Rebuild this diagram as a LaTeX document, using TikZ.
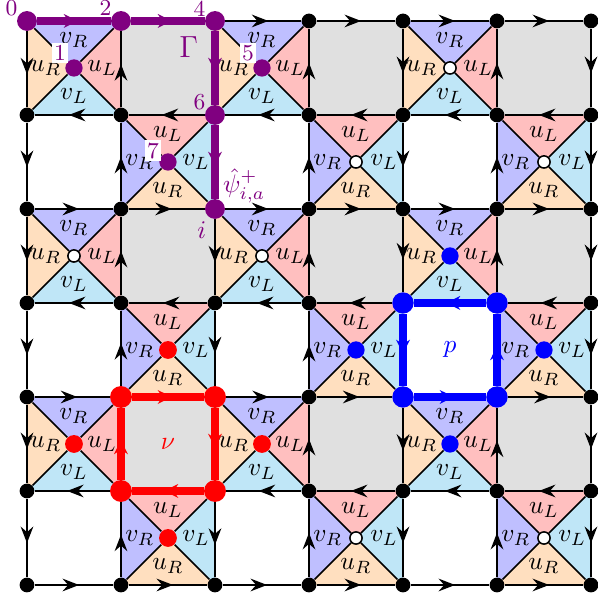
\documentclass[tikz,border=0pt]{standalone}
\usetikzlibrary{arrows.meta,decorations.markings,backgrounds}

\definecolor{pathpurple}{RGB}{128,0,128}
\definecolor{vR}{HTML}{BFBFFF}
\definecolor{uR}{HTML}{FFDFBF}
\definecolor{uL}{HTML}{FFBFBF}
\definecolor{vL}{HTML}{BFE6F7}
\definecolor{plaqgray}{HTML}{E0E0E0}

% field names printed in the triangles
\newcommand{\flduL}{u_L}
\newcommand{\flduR}{u_R}
\newcommand{\fldvL}{v_L}
\newcommand{\fldvR}{v_R}

\begin{document}
\begin{tikzpicture}[
    x=1.3cm, y=1.3cm,
    lattice_edge/.style={line width=0.6pt, postaction={decorate},
      decoration={markings, mark=at position 0.5 with {\arrow[xshift=2pt]{Stealth[length=6.5pt, width=5pt, inset=2.2pt]}}}},
    loop_edge/.style={line width=2.8pt, postaction={decorate},
      decoration={markings, mark=at position 0.5 with {\arrow[xshift=1.5pt]{Stealth[length=5.5pt, width=5.4pt, inset=1.8pt]}}}},
    diagonal/.style={line width=0.6pt},
    grid_dot/.style={circle, fill=black, inner sep=0pt, minimum size=5.8pt},
    gamma_dot/.style={circle, fill=pathpurple, inner sep=0pt, minimum size=7.8pt},
    nu_dot/.style={circle, fill=red, inner sep=0pt, minimum size=8.6pt},
    p_dot/.style={circle, fill=blue, inner sep=0pt, minimum size=8.4pt},
    open_center/.style={circle, draw=black, fill=white, line width=0.6pt, inner sep=0pt, minimum size=4.8pt},
    purple_center/.style={circle, fill=pathpurple, inner sep=0pt, minimum size=6.8pt},
    red_center/.style={circle, fill=red, inner sep=0pt, minimum size=7pt},
    blue_center/.style={circle, fill=blue, inner sep=0pt, minimum size=6.8pt},
    field_label/.style={inner sep=0pt},
    corner_label/.style={font=\small, text=pathpurple, inner sep=0pt},
    num_label/.style={font=\small, text=pathpurple, fill=white, inner sep=0.9pt},
  ]
  \useasboundingbox (-0.287,-6.213) rectangle (6.074,0.223);

  % --- Lattice vertices ---
  % on the string Gamma and round the two loops
  \foreach \c/\r in {0/0, 1/0, 2/0, 2/1, 2/2}
    \node[gamma_dot] (v-\c-\r) at (\c,-\r) {};
  \foreach \c/\r in {1/4, 2/4, 1/5, 2/5}
    \node[nu_dot] (v-\c-\r) at (\c,-\r) {};
  \foreach \c/\r in {4/3, 5/3, 4/4, 5/4}
    \node[p_dot] (v-\c-\r) at (\c,-\r) {};
  % all the others
  \foreach \r/\cols in {0/{3,4,5,6}, 1/{0,1,3,4,5,6}, 2/{0,1,3,4,5,6},
      3/{0,1,2,3,6}, 4/{0,3,6}, 5/{0,3,4,5,6}, 6/{0,...,6}}
    \foreach \c in \cols
      \node[grid_dot] (v-\c-\r) at (\c,-\r) {};

  % --- Grey plaquettes ---
  \begin{scope}[on background layer]
    \foreach \c/\r in {1/0, 3/0, 5/0, 1/2, 3/2, 5/2, 1/4, 3/4, 5/4}
      \fill[plaqgray] (v-\c-\r.center) rectangle ++(1,-1);
  \end{scope}

  % --- Crossed plaquettes: centre, four triangles, diagonals ---
  \foreach \c/\r/\kind in {
      0/0/purple_center, 2/0/purple_center, 4/0/open_center,
      1/1/purple_center, 3/1/open_center,   5/1/open_center,
      0/2/open_center,   2/2/open_center,   4/2/blue_center,
      1/3/red_center,    3/3/blue_center,   5/3/blue_center,
      0/4/red_center,    2/4/red_center,    4/4/blue_center,
      1/5/red_center,    3/5/open_center,   5/5/open_center} {
    \pgfmathtruncatemacro\cc{\c+1}
    \pgfmathtruncatemacro\rr{\r+1}
    \ifodd\r\relax
      \def\nfield{uL}\def\wfield{vR}\def\efield{vL}\def\sfield{uR}
    \else
      \def\nfield{vR}\def\wfield{uR}\def\efield{uL}\def\sfield{vL}
    \fi
    \node[\kind] (s-\c-\r) at (\c+0.5,-\r-0.5) {};
    \begin{pgfonlayer}{background}
      \fill[\nfield] (v-\c-\r.center) -- (v-\cc-\r.center) -- (s-\c-\r.center) -- cycle;
      \fill[\wfield] (v-\c-\r.center) -- (v-\c-\rr.center) -- (s-\c-\r.center) -- cycle;
      \fill[\efield] (v-\cc-\r.center) -- (v-\cc-\rr.center) -- (s-\c-\r.center) -- cycle;
      \fill[\sfield] (v-\c-\rr.center) -- (v-\cc-\rr.center) -- (s-\c-\r.center) -- cycle;
      \node[field_label] (f-\c-\r-n) at ([shift={(0,0.3)}]s-\c-\r) {$\csname fld\nfield\endcsname$};
      \node[field_label] (f-\c-\r-w) at ([shift={(-0.3,0)}]s-\c-\r) {$\csname fld\wfield\endcsname$};
      \node[field_label] (f-\c-\r-e) at ([shift={(0.3,0)}]s-\c-\r) {$\csname fld\efield\endcsname$};
      \node[field_label] (f-\c-\r-s) at ([shift={(0,-0.3)}]s-\c-\r) {$\csname fld\sfield\endcsname$};
      \draw[diagonal] (v-\c-\r) -- (s-\c-\r);
      \draw[diagonal] (v-\cc-\r) -- (s-\c-\r);
      \draw[diagonal] (v-\c-\rr) -- (s-\c-\r);
      \draw[diagonal] (v-\cc-\rr) -- (s-\c-\r);
    \end{pgfonlayer}
  }

  \begin{scope}[on background layer]
    % --- Lattice edges: rows to the right when even, to the left when odd ---
    \foreach \r/\cols in {0/{2,3,4,5}, 1/{0,...,5}, 2/{0,...,5}, 3/{0,1,2,3,5},
        4/{0,2,3,5}, 5/{0,2,3,4,5}, 6/{0,...,5}}
      \foreach \c in \cols {
        \pgfmathtruncatemacro\cc{\c+1}
        \ifodd\r\relax
          \draw[lattice_edge] (v-\cc-\r) -- (v-\c-\r);
        \else
          \draw[lattice_edge] (v-\c-\r) -- (v-\cc-\r);
        \fi
      }
    % columns down when even, up when odd
    \foreach \c/\rows in {0/{0,...,5}, 1/{0,1,2,3,5}, 2/{2,3,5}, 3/{0,...,5},
        4/{0,1,2,4,5}, 5/{0,1,2,4,5}, 6/{0,...,5}}
      \foreach \r in \rows {
        \pgfmathtruncatemacro\rr{\r+1}
        \ifodd\c\relax
          \draw[lattice_edge] (v-\c-\rr) -- (v-\c-\r);
        \else
          \draw[lattice_edge] (v-\c-\r) -- (v-\c-\rr);
        \fi
      }

    % --- String Gamma ---
    \draw[loop_edge, pathpurple] (v-0-0) -- (v-1-0);
    \draw[loop_edge, pathpurple] (v-1-0) -- (v-2-0);
    \draw[loop_edge, pathpurple] (v-2-0) -- (v-2-1);
    \draw[loop_edge, pathpurple] (v-2-1) -- (v-2-2);

    % --- Loop round the grey plaquette nu ---
    \draw[loop_edge, red] (v-1-4) -- (v-2-4);
    \draw[loop_edge, red] (v-2-4) -- (v-2-5);
    \draw[loop_edge, red] (v-2-5) -- (v-1-5);
    \draw[loop_edge, red] (v-1-5) -- (v-1-4);

    % --- Loop round the white plaquette p ---
    \draw[loop_edge, blue] (v-5-3) -- (v-4-3);
    \draw[loop_edge, blue] (v-4-3) -- (v-4-4);
    \draw[loop_edge, blue] (v-4-4) -- (v-5-4);
    \draw[loop_edge, blue] (v-5-4) -- (v-5-3);
  \end{scope}

  % --- Labels ---
  \node[corner_label] (lab-0) at ([shift={(-0.165,0.135)}]v-0-0) {0};
  \node[corner_label] (lab-2) at ([shift={(-0.165,0.135)}]v-1-0) {2};
  \node[corner_label] (lab-4) at ([shift={(-0.165,0.135)}]v-2-0) {4};
  \node[corner_label] (lab-6) at ([shift={(-0.165,0.135)}]v-2-1) {6};
  \node[num_label] (lab-1) at ([shift={(-0.15,0.16)}]s-0-0) {1};
  \node[num_label] (lab-5) at ([shift={(-0.15,0.16)}]s-2-0) {5};
  \node[num_label] (lab-7) at ([shift={(-0.16,0.12)}]s-1-1) {7};
  \node[font=\large, text=pathpurple] (gamma) at (1.72,-0.28) {$\Gamma$};
  \node[text=pathpurple] (psi) at ([shift={(0.31,0.245)}]v-2-2) {$\hat{\psi}^{+}_{i,a}$};
  \node[text=pathpurple] (site-i) at ([shift={(-0.14,-0.22)}]v-2-2) {$i$};
  \node[text=red] (nu) at (1.5,-4.5) {$\nu$};
  \node[text=blue] (p) at (4.5,-3.5) {$p$};

\end{tikzpicture}
\end{document}
